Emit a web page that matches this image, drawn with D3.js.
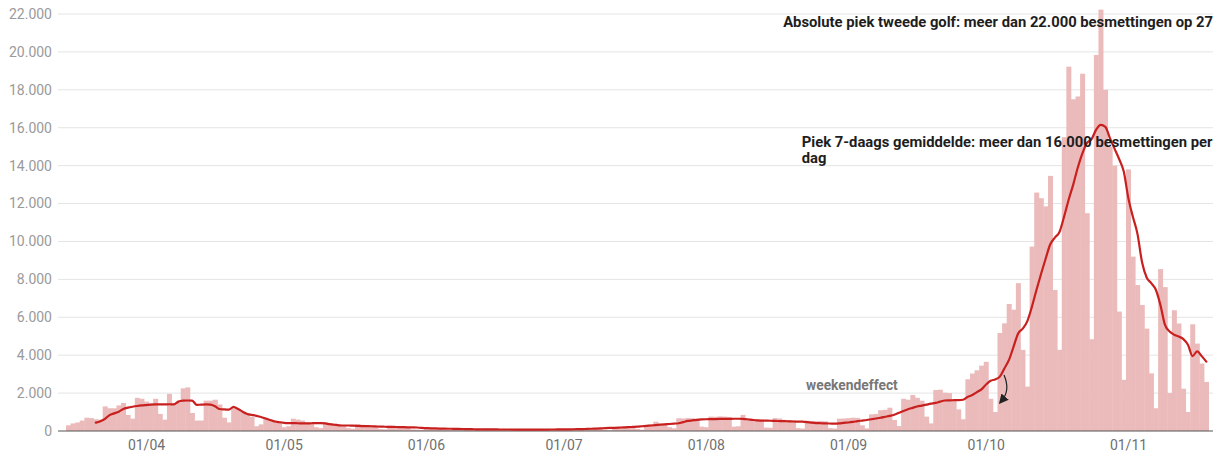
<!DOCTYPE html>
<html>
<head>
<meta charset="utf-8">
<script src="https://cdn.jsdelivr.net/npm/d3@7"></script>
<style>
  body { margin: 0; background: #fff; }
  svg { display: block; font-family: Roboto, "Noto Sans", sans-serif; }
</style>
</head>
<body>
<svg id="chart" width="1224" height="458"></svg>
<script>
// daily confirmed cases, one value per day starting at firstDay
const firstDay = "2020-03-16";
const dailyCases = [
  300, 400, 450, 550, 700, 680, 620,
  600, 1300, 1200, 1200, 1350, 1480, 850,
  650, 1750, 1700, 1550, 1450, 1700, 900,
  600, 1960, 1450, 1500, 2250, 2300, 950,
  550, 550, 1600, 1600, 1650, 1400, 700,
  450, 1250, 1150, 1000, 850, 750, 250,
  350, 700, 600, 550, 500, 200, 250,
  650, 600, 550, 450, 400, 200, 150,
  450, 400, 380, 350, 300, 150, 120,
  350, 330, 300, 290, 260, 100, 90,
  280, 260, 250, 240, 200, 80, 70,
  60, 180, 170, 160, 150, 80, 50,
  150, 140, 130, 120, 110, 60, 40,
  120, 110, 100, 100, 95, 50, 35,
  110, 100, 95, 90, 90, 45, 30,
  100, 95, 90, 95, 100, 50, 35,
  120, 110, 120, 130, 140, 60, 40,
  200, 180, 200, 220, 240, 110, 70,
  320, 340, 490, 420, 400, 200, 140,
  670, 660, 680, 670, 650, 230, 200,
  760, 750, 770, 760, 740, 230, 250,
  850, 640, 630, 620, 600, 180, 170,
  680, 660, 590, 580, 560, 150, 130,
  540, 530, 520, 530, 510, 150, 130,
  650, 660, 680, 700, 690, 300, 140,
  880, 900, 1100, 1120, 1230, 580, 260,
  1700, 1650, 1900, 1750, 1600, 760, 400,
  2160, 2180, 2020, 2000, 1640, 1140, 620,
  2730, 3030, 3200, 3450, 3650, 1700, 1000,
  5170, 5680, 6700, 6400, 7800, 4280, 2340,
  9730, 12580, 12280, 11850, 13460, 7440, 4280,
  15500, 19220, 17500, 17650, 18850, 11490, 4840,
  19840, 22230, 18000, 15000, 14000, 6300, 2700,
  13800, 9200, 7700, 6650, 5400, 3040, 1200,
  8540, 7590, 2000, 6370, 5670, 2230, 1000,
  5630, 4610, 3560, 2590
];

// 7-day average, one value per day starting at avgFirstDay
const avgFirstDay = "2020-03-22";
const sevenDayAvg = [
  440, 520, 640, 840, 930, 1020, 1160,
  1230, 1280, 1320, 1350, 1370, 1390, 1400,
  1400, 1400, 1410, 1400, 1550, 1600, 1610,
  1600, 1380, 1390, 1400, 1390, 1300, 1160,
  1140, 1130, 1270, 1160, 1020, 900, 850,
  800, 740, 660, 580, 500, 460, 430,
  420, 420, 410, 400, 400, 410, 420,
  420, 400, 360, 330, 300, 290, 290,
  280, 270, 260, 255, 250, 240, 230,
  225, 220, 215, 205, 200, 195, 190,
  185, 160, 150, 140, 135, 130, 125,
  120, 115, 110, 105, 100, 95, 90,
  90, 88, 85, 83, 80, 80, 78,
  77, 76, 75, 75, 75, 75, 76,
  77, 78, 80, 82, 85, 88, 92,
  95, 100, 110, 120, 130, 140, 150,
  160, 170, 180, 190, 200, 215, 230,
  250, 270, 290, 310, 330, 350, 370,
  390, 410, 470, 530, 560, 590, 610,
  620, 625, 630, 635, 640, 640, 645,
  645, 640, 620, 590, 560, 550, 545,
  540, 530, 525, 520, 510, 500, 495,
  490, 470, 440, 420, 410, 400, 395,
  390, 400, 430, 450, 480, 520, 550,
  580, 620, 660, 700, 750, 800, 860,
  960, 1060, 1150, 1220, 1290, 1340, 1390,
  1440, 1480, 1550, 1610, 1620, 1625, 1630,
  1650, 1800, 1900, 2050, 2200, 2450, 2650,
  2720, 2870, 3300, 3750, 4450, 5150, 5400,
  5800, 6560, 7450, 8300, 9100, 9850, 10200,
  10500, 11300, 12200, 13000, 13900, 14650, 15200,
  15400, 15900, 16150, 16050, 15450, 14900, 14350,
  13700, 12300, 11300, 10400, 8900, 8100, 7800,
  7450, 6650, 5600, 5250, 5080, 4980, 4850,
  4550, 3950, 4200, 3950, 3660
];

const yTicks = [0, 2000, 4000, 6000, 8000, 10000, 12000, 14000, 16000, 18000, 20000, 22000];
const monthTicks = ["2020-04-01", "2020-05-01", "2020-06-01", "2020-07-01",
                    "2020-08-01", "2020-09-01", "2020-10-01", "2020-11-01"];
const monthLabels = ["01/04", "01/05", "01/06", "01/07", "01/08", "01/09", "01/10", "01/11"];

const svg = d3.select("#chart");
const plotLeft = 58, plotRight = 1213;

const nl = d3.formatLocale({ decimal: ",", thousands: ".", grouping: [3], currency: ["€", ""] });
const fmt = nl.format(",");

const x = d3.scaleUtc()
  .domain([new Date("2020-04-01"), new Date("2020-11-01")])
  .range([146, 1128]);
const y = d3.scaleLinear().domain([0, 22000]).range([431, 14]);

const t0 = new Date(firstDay);
const bw = x(d3.utcDay.offset(t0, 1)) - x(t0);
const bars = dailyCases.map((v, i) => ({ date: d3.utcDay.offset(t0, i), value: v }));
const a0 = new Date(avgFirstDay);
const avg = sevenDayAvg.map((v, i) => ({ date: d3.utcDay.offset(a0, i), value: v }));

// each day's bar ends just before its date tick
const barRight = d => x(d) - 2;

// gridlines
svg.append("g")
  .selectAll("line")
  .data(yTicks.filter(d => d > 0))
  .join("line")
  .attr("x1", plotLeft).attr("x2", plotRight)
  .attr("y1", d => y(d)).attr("y2", d => y(d))
  .attr("stroke", "#e4e4e4")
  .attr("stroke-width", 1);

// y labels
svg.append("g")
  .selectAll("text")
  .data(yTicks)
  .join("text")
  .attr("x", 52)
  .attr("y", d => y(d))
  .attr("dy", "0.35em")
  .attr("text-anchor", "end")
  .attr("font-size", 14)
  .attr("fill", "#9a9a9a")
  .text(d => fmt(d));

// bars
svg.append("g")
  .selectAll("rect")
  .data(bars)
  .join("rect")
  .attr("x", d => barRight(d.date) - bw)
  .attr("width", bw + 0.4)
  .attr("y", d => y(d.value))
  .attr("height", d => y(0) - y(d.value))
  .attr("fill", "#ebbaba");

// baseline
svg.append("line")
  .attr("x1", plotLeft).attr("x2", plotRight)
  .attr("y1", y(0)).attr("y2", y(0))
  .attr("stroke", "#555")
  .attr("stroke-width", 1.2);

// x axis labels
const xAxis = d3.axisBottom(x)
  .tickValues(monthTicks.map(d => new Date(d)))
  .tickFormat((d, i) => monthLabels[i])
  .tickSize(0)
  .tickPadding(9);
svg.append("g")
  .attr("transform", "translate(0," + y(0) + ")")
  .call(xAxis)
  .call(g => g.select(".domain").remove())
  .selectAll("text")
  .attr("font-family", "Roboto, sans-serif")
  .attr("font-size", 14)
  .attr("fill", "#707070");

// 7-day average line
svg.append("path")
  .datum(avg)
  .attr("fill", "none")
  .attr("stroke", "#c8201f")
  .attr("stroke-width", 2.2)
  .attr("stroke-linejoin", "round")
  .attr("stroke-linecap", "round")
  .attr("d", d3.line()
    .curve(d3.curveMonotoneX)
    .x(d => barRight(d.date) - bw / 2)
    .y(d => y(d.value)));

// annotations
svg.append("text")
  .attr("x", plotRight)
  .attr("y", y(21300))
  .attr("text-anchor", "end")
  .attr("font-size", 14.8)
  .attr("font-weight", 700)
  .attr("fill", "#1e1e1e")
  .text("Absolute piek tweede golf: meer dan 22.000 besmettingen op 27");

const piekX = x(new Date("2020-10-01")) - 184;
const piek = svg.append("text")
  .attr("x", piekX)
  .attr("y", y(15000))
  .attr("font-size", 14.8)
  .attr("font-weight", 700)
  .attr("fill", "#1e1e1e");
piek.append("tspan").text("Piek 7-daags gemiddelde: meer dan 16.000 besmettingen per");
piek.append("tspan").attr("x", piekX).attr("dy", 16).text("dag");

svg.append("text")
  .attr("x", x(new Date("2020-09-01")) - 42)
  .attr("y", y(2400))
  .attr("dy", "0.35em")
  .attr("font-size", 13.8)
  .attr("font-weight", 700)
  .attr("fill", "#777")
  .text("weekendeffect");

// arrow pointing at the weekend dip
svg.append("defs").append("marker")
  .attr("id", "head")
  .attr("viewBox", "0 0 10 10")
  .attr("refX", 5).attr("refY", 5)
  .attr("markerWidth", 8).attr("markerHeight", 8)
  .attr("orient", "auto-start-reverse")
  .append("path")
  .attr("d", "M0,0 L10,5 L0,10 z")
  .attr("fill", "#222");

const ax = x(new Date("2020-10-04"));
const arrow = d3.path();
arrow.moveTo(ax + 4.5, y(2950));
arrow.quadraticCurveTo(ax + 11, y(2150), ax + 2.5, y(1620));
svg.append("path")
  .attr("d", arrow.toString())
  .attr("fill", "none")
  .attr("stroke", "#222")
  .attr("stroke-width", 1.2)
  .attr("marker-end", "url(#head)");
</script>
</body>
</html>
